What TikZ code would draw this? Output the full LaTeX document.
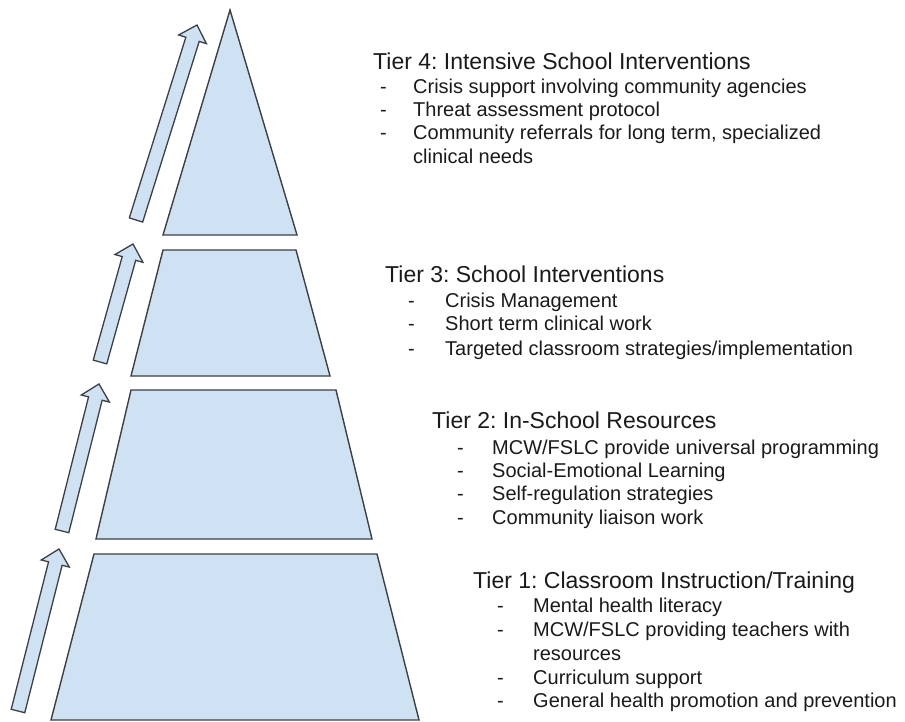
\documentclass[tikz,border=0pt]{standalone}
\usepackage{fontspec}
\setmainfont{Liberation Sans}
\usetikzlibrary{calc}
\definecolor{tierfill}{HTML}{CFE2F3}
\definecolor{tierline}{HTML}{3C4043}
\definecolor{txt}{HTML}{1A1A1A}
\frenchspacing
\begin{document}
\begin{tikzpicture}[x=1pt,y=-1pt,
  tier/.style={fill=tierfill,draw=tierline,line width=1.4pt,line join=miter},
  uparrow/.style={fill=tierfill,draw=tierline,line width=1.3pt,line join=miter},
  headtxt/.style={anchor=base west,inner sep=0pt,font=\fontsize{23}{27}\selectfont,text=txt},
  itemtxt/.style={anchor=base west,inner sep=0pt,font=\fontsize{20}{24}\selectfont,text=txt},
  dashtxt/.style={anchor=base west,inner sep=0pt,font=\fontsize{20}{24}\selectfont,text=txt}]
\useasboundingbox (0,0) rectangle (905,722);
\newcommand{\blockarrow}[2]{%
  \draw[uparrow]
    ($(#1)!7pt!90:(#2)$) --
    ($($(#2)!15pt!(#1)$)!7pt!90:(#2)$) --
    ($($(#2)!15pt!(#1)$)!14.5pt!90:(#2)$) --
    (#2) --
    ($($(#2)!15pt!(#1)$)!14.5pt!-90:(#2)$) --
    ($($(#2)!15pt!(#1)$)!7pt!-90:(#2)$) --
    ($(#1)!7pt!-90:(#2)$) -- cycle;}
% pyramid tiers
\coordinate (t4apex) at (230,10);
\coordinate (t4bl) at (163,235);
\coordinate (t4br) at (297,235);
\coordinate (t3tl) at (163,250);
\coordinate (t3tr) at (296,250);
\coordinate (t3br) at (330,376);
\coordinate (t3bl) at (131,376);
\coordinate (t2tl) at (131,390);
\coordinate (t2tr) at (336,390);
\coordinate (t2br) at (372,539);
\coordinate (t2bl) at (96,539);
\coordinate (t1tl) at (94,554);
\coordinate (t1tr) at (377,554);
\coordinate (t1br) at (419,720);
\coordinate (t1bl) at (51,720);
\draw[tier] (t4apex) -- (t4br) -- (t4bl) -- cycle;
\draw[tier] (t3tl) -- (t3tr) -- (t3br) -- (t3bl) -- cycle;
\draw[tier] (t2tl) -- (t2tr) -- (t2br) -- (t2bl) -- cycle;
\draw[tier] (t1tl) -- (t1tr) -- (t1br) -- (t1bl) -- cycle;
% arrows
\coordinate (a4tail) at (136,220);
\coordinate (a4tip) at (197,25);
\coordinate (a3tail) at (100,362);
\coordinate (a3tip) at (133,244);
\coordinate (a2tail) at (62,531);
\coordinate (a2tip) at (99,384);
\coordinate (a1tail) at (18,711);
\coordinate (a1tip) at (59,549);
\blockarrow{a4tail}{a4tip}
\blockarrow{a3tail}{a3tip}
\blockarrow{a2tail}{a2tip}
\blockarrow{a1tail}{a1tip}
% Tier 4 text
\node[headtxt] (t4h) at (373,70) {Tier 4: Intensive School Interventions};
\node[dashtxt] (t4d1) at (380,94) {-};
\node[itemtxt] (t4i1) at (413,94) {Crisis support involving community agencies};
\node[dashtxt] (t4d2) at (380,117) {-};
\node[itemtxt] (t4i2) at (413,117) {Threat assessment protocol};
\node[dashtxt] (t4d3) at (380,140) {-};
\node[itemtxt] (t4i3) at (413,140) {Community referrals for long term, specialized};
\node[itemtxt] (t4i3b) at (413,164) {clinical needs};
% Tier 3 text
\node[headtxt] (t3h) at (385,283) {Tier 3: School Interventions};
\node[dashtxt] (t3d1) at (408,307) {-};
\node[itemtxt] (t3i1) at (445,307) {Crisis Management};
\node[dashtxt] (t3d2) at (408,330) {-};
\node[itemtxt] (t3i2) at (445,330) {Short term clinical work};
\node[dashtxt] (t3d3) at (408,355) {-};
\node[itemtxt] (t3i3) at (445,355) {Targeted classroom strategies/implementation};
% Tier 2 text
\node[headtxt] (t2h) at (432,428) {Tier 2: In-School Resources};
\node[dashtxt] (t2d1) at (457,454) {-};
\node[itemtxt] (t2i1) at (492,454) {MCW/FSLC provide universal programming};
\node[dashtxt] (t2d2) at (457,477) {-};
\node[itemtxt] (t2i2) at (492,477) {Social-Emotional Learning};
\node[dashtxt] (t2d3) at (457,500) {-};
\node[itemtxt] (t2i3) at (492,500) {Self-regulation strategies};
\node[dashtxt] (t2d4) at (457,524) {-};
\node[itemtxt] (t2i4) at (492,524) {Community liaison work};
% Tier 1 text
\node[headtxt] (t1h) at (473,588) {Tier 1: Classroom Instruction/Training};
\node[dashtxt] (t1d1) at (497,612) {-};
\node[itemtxt] (t1i1) at (533,612) {Mental health literacy};
\node[dashtxt] (t1d2) at (497,636) {-};
\node[itemtxt] (t1i2) at (533,636) {MCW/FSLC providing teachers with};
\node[itemtxt] (t1i2b) at (533,660) {resources};
\node[dashtxt] (t1d3) at (497,684) {-};
\node[itemtxt] (t1i3) at (533,684) {Curriculum support};
\node[dashtxt] (t1d4) at (497,707) {-};
\node[itemtxt] (t1i4) at (533,707) {General health promotion and prevention};
\end{tikzpicture}
\end{document}
